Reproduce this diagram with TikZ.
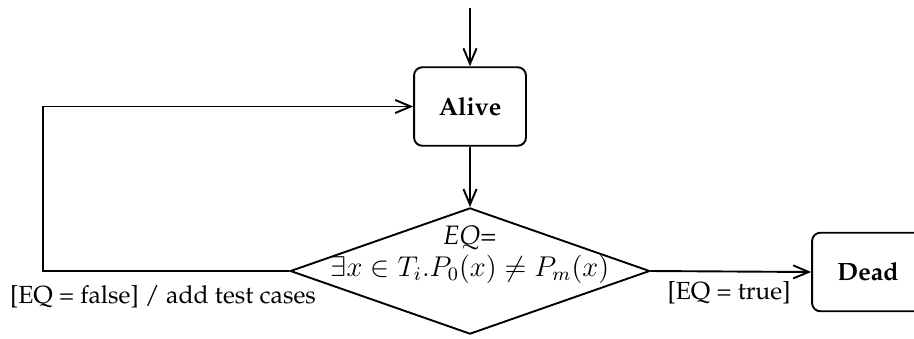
\documentclass[tikz,border=0pt]{standalone}
\usepackage[T1]{fontenc}
\renewcommand{\rmdefault}{ppl}
\usetikzlibrary{shapes.geometric,arrows.meta}
\begin{document}
\begin{tikzpicture}[x=0.42pt,y=-0.42pt,
  line width=0.8pt,
  >={Straight Barb[length=6.5pt,width=5.5pt,line width=0.8pt]},
  state/.style={draw,rounded corners=3.5pt,minimum width=47pt,minimum height=33pt,inner sep=0pt,font=\fontsize{10.5}{12}\selectfont\bfseries},
  choice/.style={draw,shape=diamond,aspect=2.85,minimum width=151pt,minimum height=53pt,inner sep=0pt},
  lbl/.style={inner sep=0pt,font=\fontsize{10.4}{12}\selectfont}]
\useasboundingbox (0,0) rectangle (914,338);
\coordinate (start) at (470,8);
\node[state] (alive) at (470,106.5) {Alive};
\node[choice] (eq) at (470,271) {};
\node[inner sep=0pt,font=\fontsize{11.2}{13}\selectfont] (eqname) at (470,238) {\textit{EQ=}};
\node[inner sep=0pt,font=\fontsize{12}{14}\selectfont] (eqformula) at (470,269) {$\exists x\in T_i.P_0(x)\neq P_m(x)$};
\node[state] (dead) at (868,272) {Dead};
\coordinate (corner) at (43,271);
\draw[->] (start) -- (alive.north);
\draw[->] (alive.south) -- (eq.north);
\draw[->] (eq.east) -- (dead.west);
\draw[->] (eq.west) -- (corner) |- (alive.west);
\node[lbl] (lfalse) at (163,297) {[EQ = false] / add test cases};
\node[lbl] (ltrue) at (729,293) {[EQ = true]};
\end{tikzpicture}
\end{document}
